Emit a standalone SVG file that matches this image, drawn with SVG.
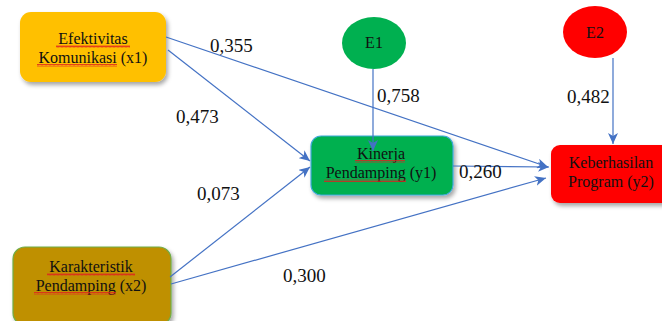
<svg xmlns="http://www.w3.org/2000/svg" width="662" height="321" viewBox="0 0 662 321">
<style>
text { font-family: 'Liberation Serif', 'Times New Roman', 'DejaVu Serif', serif; }
.box text, .ell text { font-size: 16px; fill: #111; text-anchor: middle; }
.lbl { font-size: 19px; fill: #111; }
.conn line { stroke: #4472C4; stroke-width: 1.2; fill: none; marker-end: url(#arr); }
.sq { fill: url(#wave); }
</style>
<defs>
<marker id="arr" markerUnits="userSpaceOnUse" markerWidth="12" markerHeight="10" refX="11" refY="5" orient="auto">
<path d="M0,0 L11,5 L0,10 L3,5 Z" fill="#4472C4"/>
</marker>
<filter id="sh" x="-10%" y="-10%" width="130%" height="140%">
<feDropShadow dx="2" dy="3" stdDeviation="2" flood-color="#000" flood-opacity="0.35"/>
</filter>
<pattern id="wave" patternUnits="userSpaceOnUse" width="4" height="3">
<path d="M0,2.5 L1,0.5 L2,2.5 L3,0.5 L4,2.5" stroke="#E02020" stroke-width="0.8" fill="none"/>
</pattern>
</defs>
<g id="x1" class="box">
<rect x="20" y="12" width="146" height="70" rx="11" fill="#FFC000" filter="url(#sh)"/>
<text x="93" y="44">Efektivitas</text>
<text x="93" y="63">Komunikasi (x1)</text>
<rect class="sq" x="56" y="45" width="74" height="3"/>
<rect class="sq" x="37" y="64" width="80" height="3"/>
</g>
<g id="x2" class="box">
<rect x="13" y="247" width="158" height="78" rx="12" fill="#BF9000" stroke="#70AD47" stroke-width="1.2" filter="url(#sh)"/>
<text x="91" y="272">Karakteristik</text>
<text x="91" y="291">Pendamping (x2)</text>
<rect class="sq" x="47" y="273" width="88" height="3"/>
<rect class="sq" x="34" y="292" width="82" height="3"/>
</g>
<g id="y1" class="box">
<rect x="311" y="136" width="142" height="59" rx="10" fill="#00B050" stroke="#3FA9D8" stroke-width="1.2" filter="url(#sh)"/>
<text x="381" y="159">Kinerja</text>
<text x="381" y="178">Pendamping (y1)</text>
<rect class="sq" x="355" y="160" width="50" height="3"/>
<rect class="sq" x="324" y="179" width="82" height="3"/>
</g>
<g id="y2" class="box">
<rect x="551" y="145" width="124" height="58" rx="9" fill="#FF0000" filter="url(#sh)"/>
<text x="611" y="168">Keberhasilan</text>
<text x="611" y="187">Program (y2)</text>
</g>
<g id="e1" class="ell">
<ellipse cx="374" cy="43" rx="32" ry="26" fill="#00B050"/>
<text x="374" y="48">E1</text>
</g>
<g id="e2" class="ell">
<ellipse cx="595" cy="32" rx="32" ry="26" fill="#FF0000"/>
<text x="595" y="38">E2</text>
</g>
<g id="connectors" class="conn">
<line x1="166" y1="37" x2="548" y2="167"/>
<line x1="168" y1="50" x2="310" y2="161"/>
<line x1="170" y1="277" x2="310" y2="167"/>
<line x1="171" y1="284" x2="546" y2="178"/>
<line x1="453" y1="166" x2="549" y2="167"/>
<line x1="373" y1="69" x2="373" y2="151"/>
<line x1="613" y1="58" x2="613" y2="144"/>
</g>
<g id="labels">
<text class="lbl" x="210" y="52">0,355</text>
<text class="lbl" x="176" y="123">0,473</text>
<text class="lbl" x="197" y="200">0,073</text>
<text class="lbl" x="283" y="282">0,300</text>
<text class="lbl" x="377" y="102">0,758</text>
<text class="lbl" x="567" y="103">0,482</text>
<text class="lbl" x="459" y="178">0,260</text>
</g>
</svg>
